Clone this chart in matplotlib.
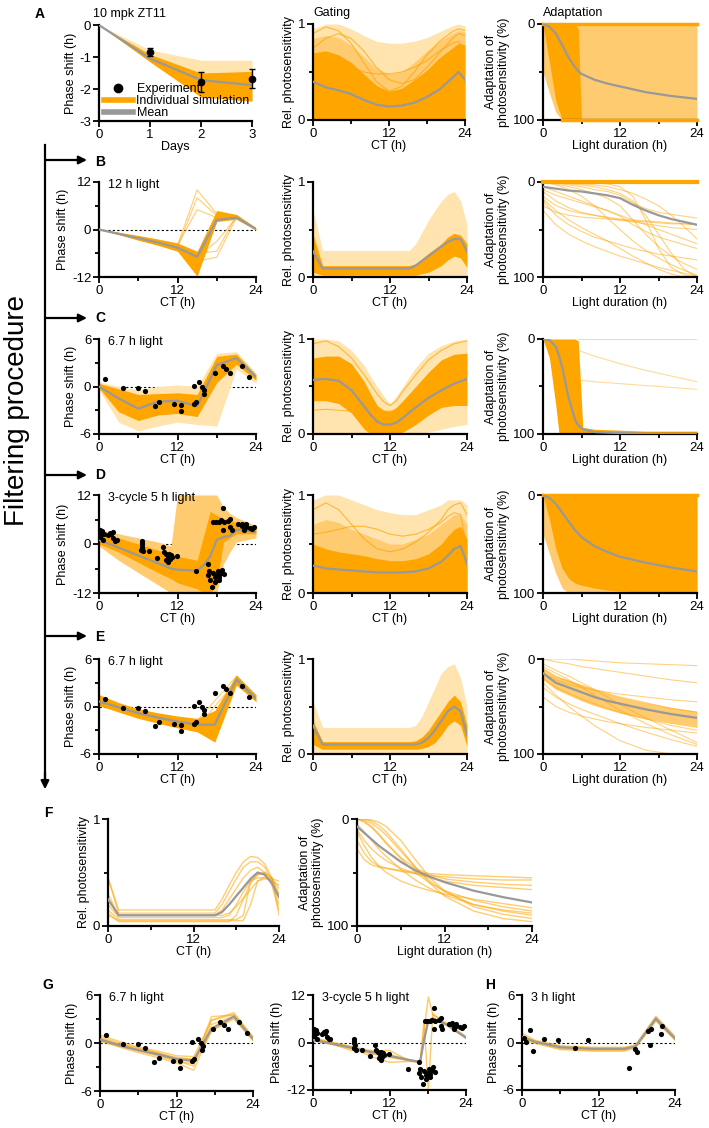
import matplotlib
matplotlib.use('Agg')
import matplotlib.pyplot as plt
from matplotlib.lines import Line2D

plt.rcParams['font.family'] = ['Liberation Sans', 'DejaVu Sans']
plt.rcParams['font.size'] = 9
plt.rcParams['axes.unicode_minus'] = False

# ---------------- DATA ----------------
# A: 10 mpk ZT11, all simulations
A1_DAYS = [0, 1, 2, 3]
A1_MEAN = [0, -1.05, -1.72, -1.88]
A1_LIGHT_HI = [0, -0.78, -1.1, -1.1]
A1_CORE_HI = [0, -0.92, -1.5, -1.45]
A1_CORE_LO = [0, -1.15, -2.25, -2.38]
A1_EXP_DAYS = [1, 2, 3]
A1_EXP = [-0.84, -1.78, -1.68]
A1_EXP_ERR = [0.12, 0.31, 0.29]

A2_CT = [0, 2, 4, 6, 8, 10, 12, 14, 16, 18, 20, 22, 23, 24]
A2_MEAN = [0.40, 0.34, 0.31, 0.27, 0.21, 0.16, 0.14, 0.15, 0.18, 0.24, 0.32, 0.44, 0.50, 0.42]
A2_OUT_HI = [0.95, 1.0, 1.0, 0.95, 0.88, 0.82, 0.80, 0.80, 0.82, 0.86, 0.92, 0.98, 1.0, 0.98]
A2_MID_HI = [0.85, 0.88, 0.86, 0.78, 0.66, 0.54, 0.48, 0.50, 0.60, 0.72, 0.82, 0.90, 0.93, 0.92]
A2_CORE_HI = [0.70, 0.72, 0.68, 0.60, 0.48, 0.36, 0.30, 0.33, 0.42, 0.52, 0.65, 0.75, 0.80, 0.78]
A2_LINE_1 = [0.90, 0.97, 0.93, 0.80, 0.60, 0.40, 0.30, 0.35, 0.50, 0.68, 0.82, 0.92, 0.95, 0.93]
A2_LINE_2 = [0.75, 0.85, 0.90, 0.85, 0.72, 0.55, 0.42, 0.38, 0.42, 0.55, 0.70, 0.85, 0.90, 0.88]
A2_LINE_3 = [0.60, 0.62, 0.60, 0.55, 0.50, 0.48, 0.48, 0.50, 0.55, 0.62, 0.72, 0.80, 0.82, 0.70]

A3_X = [0, 1, 2, 3, 4, 5, 5.5, 6, 8, 10, 12, 16, 20, 24]
A3_MEAN = [0, 3, 10, 22, 35, 45, 49, 52, 58, 62, 65, 71, 75, 78]
A3_LIGHT_LO = [50, 72, 92, 100, 100, 100, 100, 100, 100, 100, 100, 100, 100, 100]
A3_CORE_TOP = [0, 0, 0, 0, 0, 0, 5, 100, 100, 100, 100, 100, 100, 100]
A3_CORE_BOT = [0, 40, 80, 100, 100, 100, 100, 100, 100, 100, 100, 100, 100, 100]

# B: filtered by 12 h light
B_CT = [0, 3, 6, 9, 12, 15, 18, 21, 24]
B_MEAN = [0, -1.1, -2.2, -3.3, -4.6, -6.9, 2.4, 3.0, 0.1]
B_CORE_HI = [0, -0.7, -1.5, -2.4, -3.4, -5.5, 4.8, 3.8, 0.4]
B_CORE_LO = [0, -1.3, -2.7, -4.0, -5.5, -11.8, 2.0, 2.6, -0.2]
B_LINE_1 = [0, -1.0, -2.0, -3.0, -4.0, 10.0, 4.0, 3.5, 0.3]
B_LINE_2 = [0, -1.0, -2.0, -3.0, -4.5, 8.0, 3.5, 3.5, 0.2]
B_LINE_3 = [0, -1.0, -2.0, -3.2, -4.0, 5.0, 3.0, 3.3, 0.2]
B_LINE_4 = [0, -1.2, -2.5, -3.8, -5.0, -8.0, -7.0, 3.0, 0.0]
B_LINE_5 = [0, -1.1, -2.3, -3.5, -4.8, -6.0, -5.5, 3.5, 0.1]
B_LINE_6 = [0, -1.1, -2.4, -3.6, -5.0, -7.0, -3.0, 3.0, 0.1]

BG_CT = [0, 1.5, 15, 16, 18, 20, 21, 22, 23, 24]
BG_MEAN = [0.27, 0.09, 0.09, 0.12, 0.22, 0.32, 0.37, 0.40, 0.40, 0.27]
BG_OUT_HI = [0.70, 0.28, 0.28, 0.35, 0.60, 0.80, 0.87, 0.90, 0.80, 0.55]
BG_CORE_HI = [0.45, 0.12, 0.12, 0.14, 0.25, 0.35, 0.42, 0.46, 0.44, 0.35]
BG_CORE_LO = [0.05, 0.02, 0.02, 0.02, 0.05, 0.12, 0.18, 0.22, 0.20, 0.10]

BA_X = [0, 2, 4, 6, 8, 10, 12, 14, 16, 18, 20, 22, 24]
BA_MEAN = [5, 7, 9, 10, 12, 14, 17, 24, 30, 35, 39, 42, 45]
BA_LINE_1 = [10, 20, 27, 32, 35, 38, 40, 42, 44, 46, 48, 49, 50]
BA_LINE_2 = [15, 25, 30, 33, 35, 37, 39, 40, 41, 42, 43, 44, 45]
BA_LINE_3 = [20, 35, 45, 52, 58, 62, 66, 70, 73, 76, 78, 80, 82]
BA_LINE_4 = [0, 2, 5, 8, 12, 17, 25, 40, 55, 68, 78, 86, 92]
BA_LINE_5 = [0, 1, 2, 3, 5, 8, 12, 20, 35, 55, 75, 92, 100]
BA_LINE_6 = [0, 3, 8, 15, 25, 38, 50, 62, 72, 80, 87, 93, 98]
BA_LINE_7 = [25, 32, 35, 37, 38, 39, 40, 41, 42, 43, 44, 44, 45]
BA_LINE_8 = [0, 0, 1, 2, 3, 5, 8, 12, 18, 25, 35, 47, 60]
BA_LINE_9 = [5, 10, 15, 20, 25, 30, 35, 40, 45, 50, 55, 60, 65]
BA_LINE_10 = [0, 0, 0, 0, 1, 2, 5, 15, 40, 70, 90, 98, 100]
BA_LINE_11 = [30, 45, 55, 62, 68, 73, 78, 82, 86, 90, 93, 96, 99]
BA_LINE_12 = [8, 14, 18, 22, 26, 30, 36, 45, 52, 58, 62, 66, 70]
BA_LINE_13 = [0, 1, 3, 5, 8, 10, 14, 22, 28, 32, 34, 36, 38]
BA_LINE_14 = [18, 30, 40, 48, 55, 62, 70, 78, 85, 92, 97, 100, 100]

# C: 6.7 h light, all passing B
C_CT = [0, 3, 6, 9, 12, 15, 18, 21, 24]
C_MEAN = [0, -1.5, -2.8, -1.9, -1.8, -2.5, 2.7, 3.6, 1.2]
C_OUT_HI = [0.6, 0, -0.4, 0, 0.2, 0, 4.2, 4.4, 1.7]
C_OUT_LO = [-0.4, -4.5, -5.6, -5.0, -4.5, -4.8, -5.0, 2.2, 0.4]
C_CORE_HI = [0.4, -0.3, -1.0, -0.9, -0.8, -1.0, 3.8, 4.1, 1.5]
C_CORE_LO = [-0.2, -3.2, -4.3, -3.6, -3.4, -3.8, 0.5, 2.8, 0.8]
EXP67_CT = [0.87, 3.6, 5.9, 7.1, 8.5, 9.2, 11.4, 12.5, 12.5, 14.5, 14.5, 14.8, 15.3,
            15.8, 16.1, 16.0, 17.7, 18.9, 19.4, 20.1, 21.8, 23.0]
EXP67_PS = [0.97, -0.13, -0.13, -0.63, -2.4, -1.9, -2.2, -2.3, -3.1, 0.1, -2.2, -2.0, 0.55,
            0.0, -0.4, -0.9, 1.75, 2.6, 2.2, 1.75, 2.6, 1.24]

CG_CT = [0, 2, 4, 6, 8, 9, 10, 11, 12, 13, 14, 16, 18, 20, 22, 24]
CG_MEAN = [0.57, 0.58, 0.56, 0.46, 0.29, 0.20, 0.13, 0.10, 0.10, 0.12, 0.17, 0.28, 0.38, 0.46, 0.53, 0.58]
CG_OUT_HI = [1.0, 1.0, 0.98, 0.88, 0.72, 0.60, 0.50, 0.40, 0.32, 0.40, 0.50, 0.70, 0.85, 0.93, 0.98, 1.0]
CG_OUT_LO = [0.0, 0.0, 0.0, 0.0, 0.0, 0.0, 0.0, 0.0, 0.0, 0.0, 0.0, 0.0, 0.02, 0.05, 0.08, 0.10]
CG_CORE_HI = [0.80, 0.82, 0.82, 0.74, 0.55, 0.42, 0.30, 0.25, 0.24, 0.28, 0.35, 0.50, 0.65, 0.78, 0.84, 0.85]
CG_CORE_LO = [0.35, 0.35, 0.32, 0.22, 0.05, 0.0, 0.0, 0.0, 0.0, 0.0, 0.02, 0.10, 0.20, 0.28, 0.30, 0.30]
CG_LINE_1 = [0.95, 0.98, 0.92, 0.80, 0.62, 0.52, 0.42, 0.34, 0.30, 0.35, 0.45, 0.62, 0.78, 0.88, 0.95, 0.98]
CG_LINE_2 = [0.25, 0.26, 0.25, 0.24, 0.24, 0.24, 0.24, 0.24, 0.24, 0.25, 0.27, 0.35, 0.50, 0.65, 0.75, 0.80]

CA_X = [0, 1, 2, 2.5, 3, 4, 5, 5.5, 6.2, 8, 12, 16, 20, 24]
CA_MEAN = [0, 1, 8, 18, 30, 62, 85, 91, 95, 98, 99, 100, 100, 100]
CA_CORE_TOP = [0, 0, 0, 0, 0, 0, 0, 2, 93, 95, 96, 97, 97, 97]
CA_CORE_BOT = [0, 20, 70, 100, 100, 100, 100, 100, 100, 100, 100, 100, 100, 100]
CA_LINE_X = [5.5, 8, 12, 16, 20, 24]
CA_LINE_1 = [12, 18, 26, 33, 39, 45]
CA_LINE_2 = [43, 45, 47, 49, 51, 53]
CA_LINE_3 = [0, 0, 0, 0, 0, 0]

# D: 3-cycle 5 h light
D_CT = [0, 3, 6, 9, 11, 12, 15, 16, 17, 18, 19, 20, 21, 24]
D_MEAN = [1.0, -0.9, -2.8, -4.7, -6.0, -6.3, -6.5, -5.2, -3.0, 1.0, 1.7, 2.0, 3.5, 3.0]
D_OUT_HI = [3.5, 2.5, 1.5, 0.5, -0.5, 12, 12, 12, 12, 12, 9, 7.5, 6.5, 4.5]
D_OUT_LO = [-0.5, -4.0, -7.0, -10.0, -12, -12, -12, -12, -12, -12, -5, -2, 0.5, 1.5]
D_CORE_HI = [3.0, 1.5, 0.0, -1.5, -2.6, -3.0, -4.0, 2.0, 8.0, 7.0, 6.2, 5.8, 5.3, 4.0]
D_CORE_LO = [0.0, -2.0, -4.5, -7.0, -8.5, -9.5, -11.0, -12, -12, -10, 0.5, 1.5, 2.5, 2.5]
EXP35_CT = [0.1, 0.26, 0.37, 0.5, 0.6, 0.2, 0.7, 1.4, 1.7, 1.9, 2.1, 2.2, 2.5, 2.7,
            6.5, 6.5, 6.6, 6.5, 6.8, 6.5, 6.4, 7.7, 8.9,
            9.8, 9.9, 10.2, 10.5, 10.8, 11.1, 10.3, 10.7, 11.0, 11.9, 10.6, 14.9,
            16.7, 16.8, 16.7, 16.9, 17.3,
            17.5, 17.9, 18.3, 18.95, 18.7, 19.1, 19.0, 20.0, 20.1, 20.3, 19.7,
            17.4, 17.7, 18.1, 18.2, 18.4, 18.7, 18.8, 19.1, 17.8, 18.4,
            21.8, 21.9, 22.1, 22.5, 23.1, 23.4, 23.7, 21.3, 22.4]
EXP35_PS = [3.5, 2.7, 2.1, 3.1, 1.0, 1.6, 2.4, 2.1, 2.7, 2.4, 2.9, 1.4, 0.8, 1.0,
            0.8, -0.1, -0.7, -1.3, -1.8, 0.3, -1.5, -1.8, -3.4,
            -0.7, -1.9, -2.4, -2.9, -3.6, -3.2, -3.8, -2.4, -2.6, -2.9, -4.3, -6.6,
            -4.9, -6.6, -7.6, -8.7, -10.5,
            5.4, 5.4, 5.5, 8.8, 5.8, 5.5, 3.5, 6.2, 4.1, 3.5, 5.6,
            -7.1, -8.2, -7.6, -6.6, -8.0, -7.0, -6.3, -7.4, -9.3, -8.8,
            5.0, 4.4, 3.5, 4.8, 4.0, 3.7, 4.1, 4.8, 4.1]

DG_CT = [0, 2, 4, 6, 8, 10, 12, 14, 16, 18, 20, 21, 22, 23, 24]
DG_MEAN = [0.28, 0.25, 0.24, 0.23, 0.22, 0.21, 0.21, 0.21, 0.22, 0.25, 0.32, 0.38, 0.45, 0.48, 0.30]
DG_OUT_HI = [0.95, 1.0, 1.0, 0.95, 0.9, 0.85, 0.82, 0.8, 0.8, 0.85, 0.9, 0.95, 0.95, 0.95, 0.9]
DG_MID_HI = [0.70, 0.75, 0.72, 0.65, 0.60, 0.55, 0.50, 0.50, 0.55, 0.60, 0.70, 0.75, 0.80, 0.80, 0.70]
DG_CORE_HI = [0.50, 0.45, 0.42, 0.40, 0.38, 0.35, 0.33, 0.33, 0.35, 0.40, 0.50, 0.58, 0.65, 0.68, 0.55]
DG_LINE_1 = [0.85, 0.92, 0.85, 0.70, 0.55, 0.45, 0.42, 0.45, 0.52, 0.62, 0.75, 0.85, 0.90, 0.92, 0.80]
DG_LINE_2 = [0.60, 0.62, 0.65, 0.68, 0.68, 0.65, 0.60, 0.58, 0.60, 0.65, 0.72, 0.78, 0.82, 0.80, 0.45]

DA_X = [0, 1, 2, 3, 4, 5, 6, 8, 10, 12, 16, 20, 24]
DA_MEAN = [0, 3, 9, 18, 27, 36, 43, 52, 58, 63, 69, 74, 78]
DA_LIGHT_LO = [40, 60, 80, 95, 100, 100, 100, 100, 100, 100, 100, 100, 100]
DA_CORE_TOP = [0, 0, 0, 0, 0, 0, 0, 0, 0, 0, 0, 0, 0]
DA_CORE_BOT = [0, 25, 55, 75, 85, 90, 92, 95, 97, 98, 99, 100, 100]

# E: 6.7 h light again (filtered)
E_CT = [0, 3, 6, 9, 12, 15, 17.7, 21, 24]
E_MEAN = [0.63, -0.1, -0.84, -1.4, -1.9, -2.3, -2.3, 3.4, 1.0]
E_CORE_HI = [1.5, 0.5, -0.3, -0.8, -1.2, -1.5, -0.5, 4.0, 1.5]
E_CORE_LO = [0.1, -0.7, -1.5, -2.1, -2.7, -3.2, -4.5, 2.7, 0.6]
E_FAN_CT = [15, 21]
E_FAN_1 = [-1.8, 3.8]
E_FAN_2 = [-2.6, 3.2]

EG_CT = [0, 1.5, 15, 16, 17, 18, 19, 20, 21, 22, 23, 24]
EG_MEAN = [0.30, 0.10, 0.10, 0.10, 0.12, 0.17, 0.25, 0.35, 0.45, 0.50, 0.45, 0.20]
EG_OUT_HI = [0.55, 0.28, 0.28, 0.30, 0.40, 0.55, 0.70, 0.85, 0.92, 0.95, 0.80, 0.50]
EG_CORE_HI = [0.35, 0.13, 0.13, 0.14, 0.18, 0.25, 0.35, 0.45, 0.55, 0.62, 0.55, 0.30]
EG_CORE_LO = [0.10, 0.05, 0.05, 0.05, 0.06, 0.08, 0.12, 0.20, 0.30, 0.35, 0.30, 0.08]

EA_X = [0, 2, 4, 6, 8, 10, 12, 16, 20, 24]
EA_MEAN = [15, 25, 30, 35, 40, 44, 47, 53, 58, 62]
EA_LINE_1 = [0, 3, 5, 8, 10, 12, 14, 18, 22, 25]
EA_LINE_2 = [10, 18, 24, 28, 32, 36, 40, 46, 52, 56]
EA_LINE_3 = [20, 30, 36, 42, 47, 52, 56, 63, 70, 75]
EA_LINE_4 = [30, 40, 47, 53, 58, 63, 68, 77, 85, 92]
EA_LINE_5 = [5, 12, 18, 25, 32, 40, 48, 62, 75, 88]
EA_LINE_6 = [40, 50, 56, 60, 63, 66, 68, 72, 75, 78]
EA_LINE_7 = [0, 0, 0, 1, 2, 3, 4, 5, 6, 7]
EA_LINE_8 = [25, 38, 50, 60, 70, 78, 86, 96, 100, 100]
EA_LINE_9 = [15, 22, 27, 30, 33, 35, 37, 40, 43, 45]
EA_LINE_10 = [8, 15, 22, 30, 38, 46, 54, 68, 80, 90]
EA_CORE_TOP = [10, 18, 22, 27, 32, 36, 40, 46, 51, 55]
EA_CORE_BOT = [22, 32, 38, 44, 49, 53, 57, 63, 68, 72]

# F: final parameter sets
F_CT = [0, 1.5, 14, 15, 16, 17, 18, 19, 20, 21, 22, 23, 24]
F_MEAN = [0.25, 0.10, 0.10, 0.10, 0.13, 0.20, 0.28, 0.36, 0.44, 0.50, 0.48, 0.40, 0.27]
F_LINE_1 = [0.45, 0.15, 0.15, 0.15, 0.25, 0.38, 0.50, 0.60, 0.65, 0.64, 0.58, 0.45, 0.28]
F_LINE_2 = [0.45, 0.12, 0.12, 0.12, 0.20, 0.32, 0.44, 0.55, 0.60, 0.60, 0.55, 0.42, 0.20]
F_LINE_3 = [0.25, 0.10, 0.10, 0.10, 0.15, 0.25, 0.35, 0.45, 0.52, 0.55, 0.50, 0.38, 0.15]
F_LINE_4 = [0.20, 0.08, 0.08, 0.08, 0.08, 0.10, 0.20, 0.32, 0.42, 0.48, 0.50, 0.45, 0.35]
F_LINE_5 = [0.15, 0.06, 0.06, 0.06, 0.06, 0.06, 0.06, 0.10, 0.42, 0.45, 0.45, 0.42, 0.38]
F_LINE_6 = [0.10, 0.05, 0.05, 0.05, 0.05, 0.05, 0.05, 0.05, 0.20, 0.42, 0.44, 0.44, 0.42]
F_LINE_7 = [0.30, 0.10, 0.10, 0.10, 0.10, 0.12, 0.18, 0.26, 0.34, 0.42, 0.46, 0.44, 0.30]
F_LINE_8 = [0.12, 0.04, 0.04, 0.04, 0.04, 0.04, 0.10, 0.25, 0.40, 0.48, 0.50, 0.45, 0.10]

FA_X = [0, 1, 2, 3, 4, 6, 8, 10, 12, 16, 20, 24]
FA_MEAN = [7, 13, 19, 25, 30, 40, 48, 54, 59, 67, 73, 78]
FA_LINE_1 = [0, 0, 1, 3, 7, 20, 38, 55, 67, 82, 89, 93]
FA_LINE_2 = [0, 1, 4, 9, 15, 30, 45, 58, 68, 80, 86, 90]
FA_LINE_3 = [0, 2, 7, 14, 22, 37, 50, 60, 67, 76, 82, 86]
FA_LINE_4 = [10, 20, 28, 34, 39, 46, 51, 55, 58, 62, 64, 66]
FA_LINE_5 = [20, 32, 40, 44, 46, 49, 51, 53, 54, 56, 57, 57]
FA_LINE_6 = [28, 38, 43, 45, 46, 48, 50, 51, 52, 53, 54, 55]
FA_LINE_7 = [5, 12, 20, 28, 35, 47, 57, 65, 71, 80, 85, 88]
FA_LINE_8 = [0, 3, 8, 15, 23, 36, 46, 52, 56, 59, 61, 62]
FA_LINE_9 = [12, 25, 36, 44, 50, 58, 63, 67, 70, 75, 79, 83]
FA_LINE_10 = [0, 0, 2, 6, 12, 28, 45, 60, 72, 86, 93, 96]

# G: final fits
GL_CT = [0, 3, 6, 9, 12, 14.7, 16, 17.5, 21, 24]
GL_MEAN = [0.45, -0.3, -0.9, -1.4, -2.0, -2.2, -0.3, 1.8, 3.3, 0.5]
GL_LINE_1 = [1.0, 0.2, -0.5, -1.0, -1.6, -1.7, 0.4, 2.8, 3.6, 0.8]
GL_LINE_2 = [0.8, 0.0, -0.7, -1.2, -1.8, -2.0, -0.2, 2.3, 3.4, 0.7]
GL_LINE_3 = [0.3, -0.4, -1.0, -1.6, -2.3, -2.6, -0.8, 1.6, 3.2, 0.4]
GL_LINE_4 = [0.2, -0.5, -1.2, -1.8, -2.5, -3.4, -1.0, 1.5, 3.0, 0.3]
GL_LINE_5 = [0.6, -0.1, -0.6, -1.2, -2.1, -2.4, 0.0, 2.9, 3.8, 0.6]
GL_LINE_6 = [0.4, -0.3, -0.8, -1.3, -1.9, -2.1, -0.5, 1.9, 3.3, 0.5]
GL_LINE_7 = [0.5, -0.2, -0.9, -1.5, -2.2, -2.9, 0.2, 3.3, 3.5, 0.6]

GM_CT = [0, 3, 6, 9, 12, 15, 16.8, 17.4, 18.1, 18.8, 21, 24]
GM_MEAN = [0.6, -0.3, -1.3, -2.4, -3.4, -4.4, -4.9, 0.5, 5.6, 6.0, 4.5, 1.2]
GM_LINE_1 = [1.0, -0.1, -1.2, -2.3, -3.3, -4.3, -5.0, 1.0, 5.5, 6.3, 4.6, 1.4]
GM_LINE_2 = [1.2, 0.1, -1.0, -2.0, -3.0, -4.3, -5.2, 3.0, 11.5, 7.0, 4.8, 1.5]
GM_LINE_3 = [0.5, -0.5, -1.6, -2.8, -3.8, -4.6, -4.8, 5.2, -11.6, 7.3, 4.2, 1.1]
GM_LINE_4 = [0.9, -0.4, -2.0, -2.2, -2.0, -4.5, -5.0, 0.5, 5.5, 6.0, 4.4, 1.3]
GM_LINE_5 = [0.7, -0.2, -1.0, -3.5, -5.0, -4.8, -5.0, 0.5, 5.6, 5.9, 4.6, 1.2]

H_CT = [0, 2, 6, 11, 16, 17.8, 21, 24]
H_MEAN = [0.7, 0.1, -0.6, -0.8, -0.8, -0.5, 3.0, 0.5]
H_LINE_1 = [1.2, 0.3, -0.4, -0.6, -0.6, -0.3, 3.3, 0.8]
H_LINE_2 = [0.9, 0.2, -0.5, -0.7, -0.7, -0.4, 3.1, 0.6]
H_LINE_3 = [0.5, 0.0, -0.8, -1.0, -1.0, -0.6, 2.8, 0.4]
H_LINE_4 = [0.3, -0.1, -0.9, -1.1, -1.1, -0.7, 2.7, 0.3]
H_LINE_5 = [0.8, 0.1, -0.7, -0.9, -0.9, -0.5, 3.2, 0.6]
EXP3_CT = [0.26, 0.6, 1.3, 1.67, 3.5, 5.6, 8.3, 10.3, 16.8, 17.7, 18.0, 19.7, 20.1, 20.3, 21.8, 21.9]
EXP3_PS = [0.54, 0.08, 1.57, -1.03, 0.41, 0.29, -0.74, 0.29, -3.2, -0.83, -1.24, 1.45, -0.33, 1.74, 1.03, 2.07]

# ---------------- STYLE ----------------
ORANGE = '#FFA500'
MID = '#FFCB70'
LIGHT = '#FFE4B0'
GREY = '#999999'
W, H = 709, 1128

fig = plt.figure(figsize=(W / 100, H / 100), dpi=100)


def add_ax(x0, x1, yt, yb):
    return fig.add_axes([x0 / W, 1 - yb / H, (x1 - x0) / W, (yb - yt) / H])


def style(ax, xlim, xmaj, xmin, ylim, ymaj, ymin, xlabel, ylabel):
    ax.set_xlim(*xlim)
    ax.set_ylim(*ylim)
    ax.set_xticks(xmaj)
    ax.set_xticks(xmin, minor=True)
    ax.set_yticks(ymaj)
    ax.set_yticks(ymin, minor=True)
    for s in ['top', 'right']:
        ax.spines[s].set_visible(False)
    for s in ['left', 'bottom']:
        ax.spines[s].set_linewidth(1.6)
    ax.tick_params(which='major', direction='out', length=4, width=1.3, pad=1.5, labelsize=9.5)
    ax.tick_params(which='minor', direction='out', length=3, width=1.3)
    ax.set_xlabel(xlabel, labelpad=0, fontsize=9)
    ax.set_ylabel(ylabel, labelpad=2, fontsize=9)


def phase_ax(ax, lim, title=None):
    style(ax, (0, 24), [0, 12, 24], [6, 18], (-lim, lim), [-lim, 0, lim], [-lim / 2, lim / 2],
          'CT (h)', 'Phase shift (h)')
    ax.axhline(0, color='k', lw=0.8, ls=(0, (2, 2)), zorder=1)
    if title:
        ax.text(0.06, 0.97, title, transform=ax.transAxes, ha='left', va='center', fontsize=9)


def gate_ax(ax):
    style(ax, (0, 24), [0, 12, 24], [6, 18], (0, 1), [0, 1], [0.5], 'CT (h)', 'Rel. photosensitivity')


def adapt_ax(ax):
    style(ax, (0, 24), [0, 12, 24], [6, 18], (100, 0), [0, 100], [50], 'Light duration (h)',
          'Adaptation of\nphotosensitivity (%)')


def thin(ax, x, y, alpha=0.55, lw=0.8):
    ax.plot(x, y, color=ORANGE, alpha=alpha, lw=lw, zorder=2)


def mean(ax, x, y):
    ax.plot(x, y, color=GREY, lw=1.6, zorder=5)


def dots(ax, x, y):
    ax.scatter(x, y, s=14, color='k', zorder=6, clip_on=False, lw=0)


# ---- Row A ----
ax = add_ax(99, 252, 25, 121)
style(ax, (0, 3), [0, 1, 2, 3], [], (-3, 0), [-3, -2, -1, 0], [], 'Days', 'Phase shift (h)')
ax.fill_between(A1_DAYS, A1_CORE_LO, A1_LIGHT_HI, color=LIGHT, lw=0)
ax.fill_between(A1_DAYS, A1_CORE_LO, A1_CORE_HI, color=ORANGE, lw=0)
mean(ax, A1_DAYS, A1_MEAN)
ax.errorbar(A1_EXP_DAYS, A1_EXP, yerr=A1_EXP_ERR, fmt='o', color='k', ms=4.5, capsize=2,
            elinewidth=1, zorder=6, clip_on=False)
handles = [Line2D([], [], marker='o', color='k', ls='none', ms=6),
           Line2D([], [], color=ORANGE, lw=4), Line2D([], [], color=GREY, lw=4)]
ax.legend(handles, ['Experiment', 'Individual simulation', 'Mean'], loc='lower left',
          bbox_to_anchor=(0.0, -0.03), frameon=False, fontsize=9, handlelength=2.3,
          handletextpad=0.3, labelspacing=0.0, borderpad=0.2, borderaxespad=0.2)
ax.set_title('10 mpk ZT11', loc='left', fontsize=9, pad=6, x=-0.04)

ax = add_ax(313, 465, 24, 120)
gate_ax(ax)
ax.fill_between(A2_CT, 0, A2_OUT_HI, color=LIGHT, lw=0)
ax.fill_between(A2_CT, 0, A2_MID_HI, color=MID, lw=0)
ax.fill_between(A2_CT, 0, A2_CORE_HI, color=ORANGE, lw=0)
for ln in [A2_LINE_1, A2_LINE_2, A2_LINE_3]:
    thin(ax, A2_CT, ln, alpha=0.7)
mean(ax, A2_CT, A2_MEAN)
ax.set_title('Gating', loc='left', fontsize=9, pad=6)

ax = add_ax(543, 697, 24, 120)
adapt_ax(ax)
ax.fill_between(A3_X, 0, A3_LIGHT_LO, color=MID, lw=0)
ax.fill_between(A3_X, A3_CORE_TOP, A3_CORE_BOT, color=ORANGE, lw=0)
ax.plot([0, 24], [0, 0], color=ORANGE, lw=2.5, zorder=3, clip_on=False)
ax.plot([3, 24], [100, 100], color=ORANGE, lw=2.5, zorder=3, clip_on=False)
mean(ax, A3_X, A3_MEAN)
ax.set_title('Adaptation', loc='left', fontsize=9, pad=6)

# ---- Row B ----
ax = add_ax(99, 256, 182, 277)
phase_ax(ax, 12, '12 h light')
ax.fill_between(B_CT, B_CORE_LO, B_CORE_HI, color=ORANGE, lw=0, zorder=2)
for ln in [B_LINE_1, B_LINE_2, B_LINE_3, B_LINE_4, B_LINE_5, B_LINE_6]:
    thin(ax, B_CT, ln)
mean(ax, B_CT, B_MEAN)

ax = add_ax(313, 467, 182, 277)
gate_ax(ax)
ax.fill_between(BG_CT, 0, BG_OUT_HI, color=LIGHT, lw=0)
ax.fill_between(BG_CT, BG_CORE_LO, BG_CORE_HI, color=ORANGE, lw=0)
mean(ax, BG_CT, BG_MEAN)

ax = add_ax(543, 697, 182, 277)
adapt_ax(ax)
for ln in [BA_LINE_1, BA_LINE_2, BA_LINE_3, BA_LINE_4, BA_LINE_5, BA_LINE_6, BA_LINE_7,
           BA_LINE_8, BA_LINE_9, BA_LINE_10, BA_LINE_11, BA_LINE_12, BA_LINE_13, BA_LINE_14]:
    thin(ax, BA_X, ln, alpha=0.5)
ax.plot([0, 24], [0, 0], color=ORANGE, lw=3, zorder=3, clip_on=False)
mean(ax, BA_X, BA_MEAN)

# ---- Row C ----
ax = add_ax(99, 256, 339, 434)
phase_ax(ax, 6, '6.7 h light')
ax.fill_between(C_CT, C_OUT_LO, C_OUT_HI, color=LIGHT, lw=0, zorder=2)
ax.fill_between(C_CT, C_CORE_LO, C_CORE_HI, color=ORANGE, lw=0, zorder=2)
mean(ax, C_CT, C_MEAN)
dots(ax, EXP67_CT, EXP67_PS)

ax = add_ax(313, 467, 339, 434)
gate_ax(ax)
ax.fill_between(CG_CT, CG_OUT_LO, CG_OUT_HI, color=LIGHT, lw=0)
ax.fill_between(CG_CT, CG_CORE_LO, CG_CORE_HI, color=ORANGE, lw=0)
for ln in [CG_LINE_1, CG_LINE_2]:
    thin(ax, CG_CT, ln, alpha=0.7)
mean(ax, CG_CT, CG_MEAN)

ax = add_ax(543, 697, 339, 434)
adapt_ax(ax)
ax.fill_between(CA_X, CA_CORE_TOP, CA_CORE_BOT, color=ORANGE, lw=0)
for ln in [CA_LINE_1, CA_LINE_2, CA_LINE_3]:
    thin(ax, CA_LINE_X, ln, alpha=0.4)
mean(ax, CA_X, CA_MEAN)

# ---- Row D ----
ax = add_ax(99, 256, 495, 593)
phase_ax(ax, 12, '3-cycle 5 h light')
ax.fill_between(D_CT, D_OUT_LO, D_OUT_HI, color=MID, lw=0, zorder=2)
ax.fill_between(D_CT, D_CORE_LO, D_CORE_HI, color=ORANGE, lw=0, zorder=2)
mean(ax, D_CT, D_MEAN)
dots(ax, EXP35_CT, EXP35_PS)

ax = add_ax(313, 467, 495, 593)
gate_ax(ax)
ax.fill_between(DG_CT, 0, DG_OUT_HI, color=LIGHT, lw=0)
ax.fill_between(DG_CT, 0, DG_MID_HI, color=MID, lw=0)
ax.fill_between(DG_CT, 0, DG_CORE_HI, color=ORANGE, lw=0)
for ln in [DG_LINE_1, DG_LINE_2]:
    thin(ax, DG_CT, ln, alpha=0.7)
mean(ax, DG_CT, DG_MEAN)

ax = add_ax(543, 697, 495, 593)
adapt_ax(ax)
ax.fill_between(DA_X, 0, DA_LIGHT_LO, color=MID, lw=0)
ax.fill_between(DA_X, DA_CORE_TOP, DA_CORE_BOT, color=ORANGE, lw=0)
ax.plot([0, 24], [0, 0], color=ORANGE, lw=2.5, zorder=3, clip_on=False)
mean(ax, DA_X, DA_MEAN)

# ---- Row E ----
ax = add_ax(99, 256, 659, 754)
phase_ax(ax, 6, '6.7 h light')
ax.fill_between(E_CT, E_CORE_LO, E_CORE_HI, color=ORANGE, lw=0, zorder=2)
for ln in [E_FAN_1, E_FAN_2]:
    thin(ax, E_FAN_CT, ln)
mean(ax, E_CT, E_MEAN)
dots(ax, EXP67_CT, EXP67_PS)

ax = add_ax(313, 467, 659, 754)
gate_ax(ax)
ax.fill_between(EG_CT, 0, EG_OUT_HI, color=LIGHT, lw=0)
ax.fill_between(EG_CT, EG_CORE_LO, EG_CORE_HI, color=ORANGE, lw=0)
mean(ax, EG_CT, EG_MEAN)

ax = add_ax(543, 697, 659, 754)
adapt_ax(ax)
ax.fill_between(EA_X, EA_CORE_TOP, EA_CORE_BOT, color=MID, lw=0)
for ln in [EA_LINE_1, EA_LINE_2, EA_LINE_3, EA_LINE_4, EA_LINE_5, EA_LINE_6, EA_LINE_7,
           EA_LINE_8, EA_LINE_9, EA_LINE_10]:
    thin(ax, EA_X, ln, alpha=0.5)
mean(ax, EA_X, EA_MEAN)

# ---- Row F ----
ax = add_ax(108, 279, 819, 926)
gate_ax(ax)
for ln in [F_LINE_1, F_LINE_2, F_LINE_3, F_LINE_4, F_LINE_5, F_LINE_6, F_LINE_7, F_LINE_8]:
    thin(ax, F_CT, ln, alpha=0.55, lw=1.0)
mean(ax, F_CT, F_MEAN)

ax = add_ax(357, 532, 819, 926)
adapt_ax(ax)
for ln in [FA_LINE_1, FA_LINE_2, FA_LINE_3, FA_LINE_4, FA_LINE_5, FA_LINE_6, FA_LINE_7,
           FA_LINE_8, FA_LINE_9, FA_LINE_10]:
    thin(ax, FA_X, ln, alpha=0.55, lw=1.0)
mean(ax, FA_X, FA_MEAN)

# ---- Row G / H ----
ax = add_ax(100, 253, 995, 1091)
phase_ax(ax, 6, '6.7 h light')
for ln in [GL_LINE_1, GL_LINE_2, GL_LINE_3, GL_LINE_4, GL_LINE_5, GL_LINE_6, GL_LINE_7]:
    thin(ax, GL_CT, ln, alpha=0.55, lw=1.0)
mean(ax, GL_CT, GL_MEAN)
dots(ax, EXP67_CT, EXP67_PS)

ax = add_ax(313, 466, 995, 1090)
phase_ax(ax, 12, '3-cycle 5 h light')
for ln in [GM_LINE_1, GM_LINE_2, GM_LINE_3, GM_LINE_4, GM_LINE_5]:
    thin(ax, GM_CT, ln, alpha=0.6, lw=1.0)
mean(ax, GM_CT, GM_MEAN)
dots(ax, EXP35_CT, EXP35_PS)

ax = add_ax(522, 675, 995, 1090)
phase_ax(ax, 6, '3 h light')
for ln in [H_LINE_1, H_LINE_2, H_LINE_3, H_LINE_4, H_LINE_5]:
    thin(ax, H_CT, ln, alpha=0.55, lw=1.0)
mean(ax, H_CT, H_MEAN)
dots(ax, EXP3_CT, EXP3_PS)

# ---- overlay: panel letters and filtering arrows ----
ov = fig.add_axes([0, 0, 1, 1], zorder=-1)
ov.set_xlim(0, W)
ov.set_ylim(H, 0)
ov.axis('off')
for lab, x, y in [('A', 40, 14), ('B', 100, 162), ('C', 100, 318), ('D', 100, 475),
                  ('E', 100, 637), ('F', 48, 813), ('G', 48, 985), ('H', 490, 985)]:
    ov.text(x, y, lab, fontsize=10, fontweight='bold', ha='center', va='center')
ov.plot([45, 45], [145, 780], color='k', lw=1.6)
ov.annotate('', xy=(45, 792), xytext=(45, 770),
            arrowprops=dict(arrowstyle='-|>', color='k', lw=1.6, mutation_scale=12))
for y in [160, 318, 475, 636]:
    ov.annotate('', xy=(87, y), xytext=(45, y),
                arrowprops=dict(arrowstyle='-|>', color='k', lw=1.6, mutation_scale=12,
                                shrinkA=0, shrinkB=0))
ov.text(17, 410, 'Filtering procedure', rotation=90, fontsize=20, ha='center', va='center')

fig.savefig('out.png', dpi=100)
